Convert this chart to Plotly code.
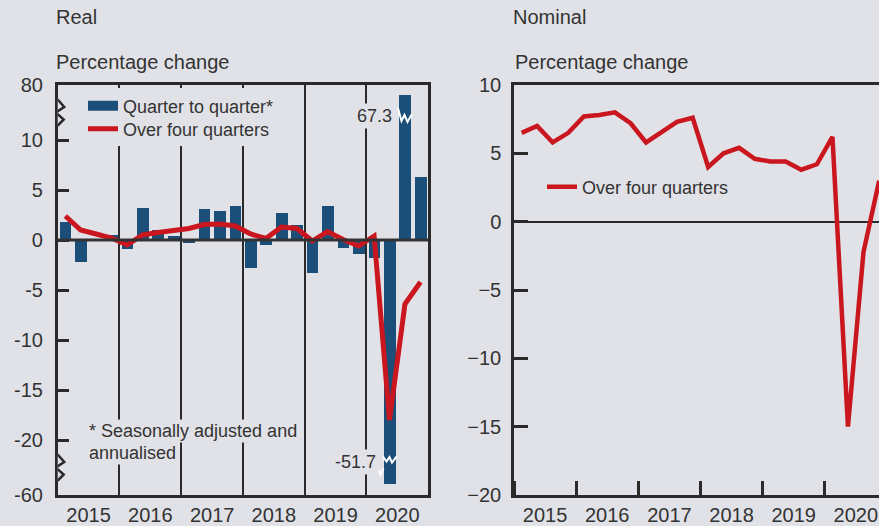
import pandas as pd
import plotly.graph_objects as go

# quarterly data, 2015Q1 - 2020Q4
quarters = pd.period_range("2015Q1", "2020Q4", freq="Q")
real_qoq = [1.8, -2.2, 0.1, 0.5, -0.9, 3.2, 1.0, 0.4, -0.3, 3.1, 2.9, 3.4,
            -2.8, -0.5, 2.7, 1.5, -3.3, 3.4, -0.8, -1.4, -1.8, -51.7, 67.3, 6.3]
real_yoy = [2.4, 1.0, 0.6, 0.2, -0.5, 0.5, 0.75, 1.0, 1.15, 1.55, 1.6, 1.4,
            0.6, 0.15, 1.3, 1.15, -0.1, 0.85, 0.05, -0.6, 0.4, -18.0, -6.4, -4.2]
nominal_yoy = [6.5, 7.0, 5.8, 6.5, 7.7, 7.8, 8.0, 7.2, 5.8, 6.5, 7.3, 7.6,
               4.0, 5.0, 5.4, 4.6, 4.4, 4.4, 3.8, 4.2, 6.2, -15.0, -2.2, 3.0]
real_ticks = [-60, -20, -15, -10, -5, 0, 5, 10, 80]
nominal_ticks = [-20, -15, -10, -5, 0, 5, 10]

BG = "#e1e2e7"
BLUE = "#1b4e79"
RED = "#c9161f"
INK = "#2a2a2a"
TXT = "#333333"
FONT = "Liberation Sans, Arial, sans-serif"

# broken axis on the real panel: 10..80 and -20..-60 get squeezed
TOP_K = 5.5 / 70
BOT_K = 5.5 / 40


def squeeze(v):
    if v > 10:
        return 10 + (v - 10) * TOP_K
    if v < -20:
        return -20 + (v + 20) * BOT_K
    return v


dates = quarters.start_time + (quarters.end_time - quarters.start_time) / 2
bar_w = 0.76 * 91.3 * 86400000

fig = go.Figure()

# legend-only entry so the bar key is a wide block like the original
fig.add_trace(go.Scatter(x=[None], y=[None], mode="lines",
                         line=dict(color=BLUE, width=11),
                         name="Quarter to quarter*", legend="legend"))
fig.add_trace(go.Bar(x=dates, y=[squeeze(v) for v in real_qoq], width=bar_w,
                     marker=dict(color=BLUE, line_width=0), showlegend=False,
                     customdata=real_qoq, hovertemplate="%{customdata}<extra></extra>"))
fig.add_trace(go.Scatter(x=dates, y=[squeeze(v) for v in real_yoy], mode="lines",
                         line=dict(color=RED, width=5), name="Over four quarters",
                         legend="legend3"))
fig.add_trace(go.Scatter(x=dates, y=nominal_yoy, mode="lines", xaxis="x2", yaxis="y2",
                         line=dict(color=RED, width=4.5), name="Over four quarters",
                         legend="legend2"))

ydom = [1 - 495 / 526, 1 - 85 / 526]
tickfont = dict(family=FONT, size=20, color=TXT)
legfont = dict(family=FONT, size=18, color=TXT)
clear = "rgba(0,0,0,0)"

fig.update_layout(
    width=879, height=526,
    margin=dict(l=0, r=0, t=0, b=0, autoexpand=False),
    paper_bgcolor=BG, plot_bgcolor=BG,
    font=dict(family=FONT, color=TXT),
    bargap=0,
    xaxis=dict(domain=[57.7 / 879, 428.3 / 879], anchor="y", type="date",
               range=["2015-01-01", "2021-01-01"], tick0="2015-01-01", dtick="M12",
               ticklabelmode="period", tickformat="%Y", ticks="",
               showgrid=True, gridcolor=INK, gridwidth=1.5, zeroline=False,
               showline=True, linecolor=INK, linewidth=2.5, mirror=True,
               tickfont=tickfont),
    yaxis=dict(domain=ydom, anchor="x", range=[-25.5, 15.5],
               tickvals=[squeeze(t) for t in real_ticks],
               ticktext=[str(t) for t in real_ticks],
               ticks="inside", ticklen=12, tickwidth=2.5, tickcolor=INK,
               showgrid=False, zeroline=False, ticklabelstandoff=8,
               showline=True, linecolor=INK, linewidth=2.5, mirror=True,
               tickfont=tickfont),
    xaxis2=dict(domain=[514 / 879, 1], anchor="y2", type="date",
                range=["2015-01-01", "2020-11-15"], tick0="2015-01-01", dtick="M12",
                ticklabelmode="period", tickformat="%Y",
                ticks="inside", ticklen=14, tickwidth=2.5, tickcolor=INK,
                showgrid=False, zeroline=False,
                showline=True, linecolor=INK, linewidth=2.5, mirror=True,
                tickfont=tickfont),
    yaxis2=dict(domain=ydom, anchor="x2", range=[-20, 10], tickvals=nominal_ticks,
                ticks="inside", ticklen=14, tickwidth=2.5, tickcolor=INK,
                showgrid=False, zeroline=True, zerolinecolor=INK, zerolinewidth=1.5,
                ticklabelstandoff=6,
                showline=True, linecolor=INK, linewidth=2.5, mirror=False,
                tickfont=tickfont),
    # the two keys of the real panel sit in separate boxes to get the tight row spacing
    legend=dict(x=83 / 879, y=1 - 106 / 526, xanchor="left", yanchor="middle",
                bgcolor=clear, borderwidth=0, font=legfont),
    legend3=dict(x=83 / 879, y=1 - 129 / 526, xanchor="left", yanchor="middle",
                 bgcolor=clear, borderwidth=0, font=legfont),
    legend2=dict(x=542 / 879, y=1 - 187 / 526, xanchor="left", yanchor="middle",
                 bgcolor=clear, borderwidth=0, font=legfont),
)

# titles
for x, txt in [(54, "Real"), (511, "Nominal")]:
    fig.add_annotation(x=x / 879, y=1 - 17 / 526, xref="paper", yref="paper",
                       text=txt, showarrow=False, xanchor="left", yanchor="middle",
                       font=dict(size=20, color=TXT))
for x in [54, 513]:
    fig.add_annotation(x=x / 879, y=1 - 62 / 526, xref="paper", yref="paper",
                       text="Percentage change", showarrow=False, xanchor="left",
                       yanchor="middle", font=dict(size=20, color=TXT))

# footnote, each row with its own background so it breaks the year lines
for y, txt in [(431, "* Seasonally adjusted and"), (453, "annualised")]:
    fig.add_annotation(x=87 / 879, y=1 - y / 526, xref="paper", yref="paper",
                       text=txt, showarrow=False, xanchor="left", yanchor="middle",
                       bgcolor=BG, borderpad=1, font=dict(size=18, color=TXT))

# values of the clipped bars
fig.add_annotation(x=dates[22], y=squeeze(real_qoq[22]), text=f"{real_qoq[22]}",
                   showarrow=False, xanchor="right", yanchor="middle",
                   xshift=-10, yshift=-21, bgcolor=BG, borderpad=2,
                   font=dict(size=18, color=TXT))
fig.add_annotation(x=dates[21], y=squeeze(real_qoq[21]), text=f"{real_qoq[21]}",
                   showarrow=False, xanchor="right", yanchor="middle",
                   xshift=-11, yshift=22, bgcolor=BG, borderpad=2,
                   font=dict(size=18, color=TXT))

shapes = []
# blank patch behind the real-panel key so the year lines stop below it
shapes.append(dict(type="rect", xref="paper", yref="paper",
                   x0=76 / 879, x1=292 / 879, y0=1 - 146 / 526, y1=1 - 88 / 526,
                   fillcolor=BG, line=dict(width=0), layer="above"))
# zero line over the bars
shapes.append(dict(type="line", xref="x domain", x0=0, x1=1, yref="y", y0=0, y1=0,
                   line=dict(color="#333333", width=3), layer="above"))

# zigzag breaks on the left axis
for yc in [(10 + squeeze(80)) / 2, (-20 + squeeze(-60)) / 2]:
    common = dict(type="path", xref="x", yref="y", xsizemode="pixel", ysizemode="pixel",
                  xanchor="2015-01-01", yanchor=yc, layer="above")
    shapes.append(dict(common, path="M -3,-13 H 3 V 13 H -3 Z",
                       fillcolor=BG, line=dict(width=0)))
    shapes.append(dict(common, path="M 0,13 L 6.5,5.5 L -2,0 L 6,-7 L 0,-13",
                       line=dict(color=INK, width=2.5)))

# white break marks across the clipped bars
shapes.append(dict(type="path", xref="x", yref="y", xsizemode="pixel", ysizemode="pixel",
                   xanchor=dates[22], yanchor=squeeze(real_qoq[22]), layer="above",
                   path="M -7,-13 L -3.5,-26 L -0.5,-20 L 2.5,-27 L 7,-19",
                   line=dict(color="white", width=2)))
shapes.append(dict(type="path", xref="x", yref="y", xsizemode="pixel", ysizemode="pixel",
                   xanchor=dates[21], yanchor=squeeze(real_qoq[21]), layer="above",
                   path="M -6.5,27 L -3,22 L 0,26.5 L 2.5,21 L 7,27 M -11,14 L -9,9 L -6,15",
                   line=dict(color="white", width=2)))

fig.update_layout(shapes=shapes)

# drop the default page margin so the 879x526 figure fills the window exactly
fig.write_html("out.html", config={"displayModeBar": False},
               post_script="document.body.style.margin='0';")
